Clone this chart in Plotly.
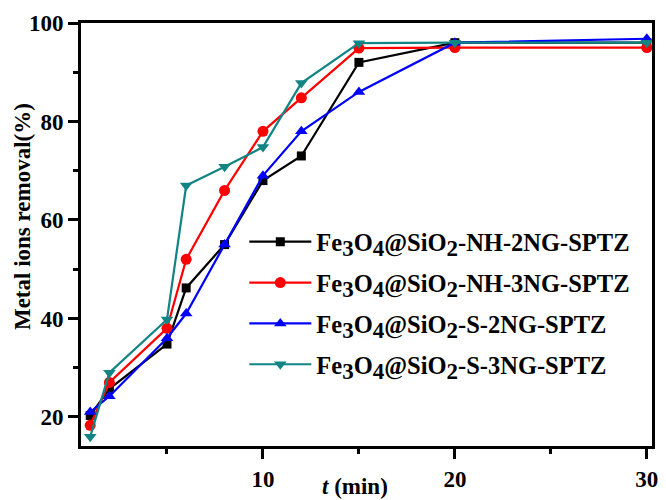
import plotly.graph_objects as go

t_min = [1, 2, 5, 6, 8, 10, 12, 15, 20, 30]
nh_2ng = [20.3, 25.7, 34.8, 46.2, 55, 68, 73, 92, 96, 96]
nh_3ng = [18.3, 27, 38, 52, 66, 78, 84.8, 94.9, 95, 95]
s_2ng = [21, 24.2, 36, 41, 55, 69, 78, 86, 96, 96.8]
s_3ng = [16, 29, 39.8, 67, 70.8, 74.8, 87.8, 95.9, 96, 96]


def sub(d):
    return f'<sub><span style="font-size:23px">{d}</span></sub>'


names = [
    f"Fe{sub(3)}O{sub(4)}@SiO{sub(2)}-NH-2NG-SPTZ",
    f"Fe{sub(3)}O{sub(4)}@SiO{sub(2)}-NH-3NG-SPTZ",
    f"Fe{sub(3)}O{sub(4)}@SiO{sub(2)}-S-2NG-SPTZ",
    f"Fe{sub(3)}O{sub(4)}@SiO{sub(2)}-S-3NG-SPTZ",
]
series = [nh_2ng, nh_3ng, s_2ng, s_3ng]
colors = ["#000000", "#ff0000", "#0000ff", "#138484"]
symbols = ["square", "circle", "triangle-up", "triangle-down"]
sizes = [9, 11, 11, 11]

fig = go.Figure()
for i, (nm, ys, c, s, sz) in enumerate(zip(names, series, colors, symbols, sizes)):
    fig.add_trace(go.Scatter(
        x=t_min, y=ys, name="<b>" + nm + "</b>", mode="lines+markers",
        line=dict(color=c, width=2.2),
        marker=dict(symbol=s, size=sz, color=c),
        legendgroup=f"g{i}",
    ))

font_family = "Liberation Serif, Times New Roman, serif"
fig.update_layout(
    width=666, height=500,
    margin=dict(l=81, r=8, t=23, b=52),
    paper_bgcolor="white", plot_bgcolor="white",
    font=dict(family=font_family, size=23, color="black"),
    showlegend=True,
    legend=dict(
        x=0.286, y=0.536, xanchor="left", yanchor="top",
        bgcolor="rgba(0,0,0,0)", borderwidth=0,
        font=dict(family=font_family, size=24.5, color="black"),
        traceorder="grouped", tracegroupgap=6, itemwidth=62,
    ),
    xaxis=dict(
        range=[0.52, 30.27], tickvals=[10, 20, 30], ticktext=["<b>10</b>", "<b>20</b>", "<b>30</b>"],
        ticks="outside", ticklen=10, tickwidth=2.5, tickcolor="black",
        minor=dict(tickvals=[5, 15, 25], ticks="outside", ticklen=5, tickwidth=2.5, tickcolor="black"),
        showline=True, linewidth=3, linecolor="black", mirror=True,
        showgrid=False, zeroline=False,
        tickfont=dict(family=font_family, size=23, color="black"),
    ),
    yaxis=dict(
        range=[14.1, 100], tickvals=[20, 40, 60, 80, 100],
        ticktext=["<b>20</b>", "<b>40</b>", "<b>60</b>", "<b>80</b>", "<b>100</b>"],
        ticks="outside", ticklen=10, tickwidth=2.5, tickcolor="black",
        minor=dict(tickvals=[30, 50, 70, 90], ticks="outside", ticklen=5, tickwidth=2.5, tickcolor="black"),
        showline=True, linewidth=3, linecolor="black", mirror=True,
        showgrid=False, zeroline=False,
        tickfont=dict(family=font_family, size=23, color="black"),
    ),
    annotations=[
        dict(text="<b><i>t</i> (min)</b>", xref="paper", yref="paper",
             x=0.48, y=0, yshift=-40, showarrow=False, xanchor="center", yanchor="middle",
             font=dict(family=font_family, size=23, color="black")),
        dict(text="<b>Metal ions removal(%)</b>", xref="paper", yref="paper",
             x=-0.102, y=0.543, textangle=-90, showarrow=False, xanchor="center", yanchor="middle",
             font=dict(family=font_family, size=23, color="black")),
    ],
)
fig.write_html(
    "out.html",
    config={"displayModeBar": False},
    post_script="document.body.style.margin='0';document.documentElement.style.overflow='hidden';",
)
